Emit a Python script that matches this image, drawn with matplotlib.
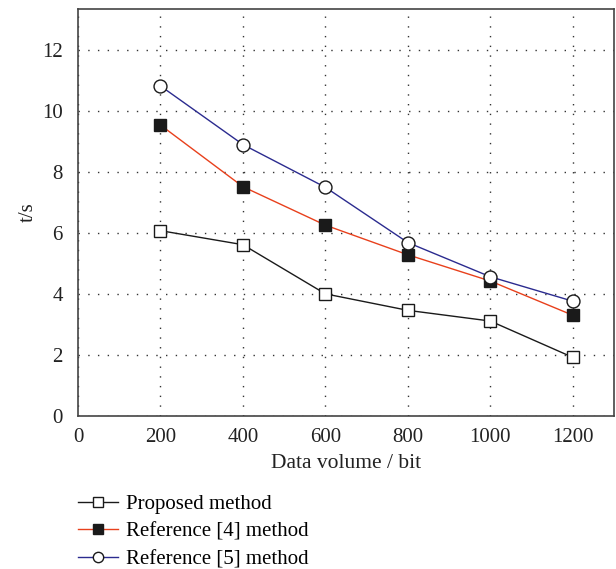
import matplotlib
matplotlib.use("Agg")
import matplotlib.pyplot as plt

x_values = [200, 400, 600, 800, 1000, 1200]
proposed = [6.07, 5.61, 4.00, 3.46, 3.11, 1.92]
ref4 = [9.53, 7.51, 6.25, 5.28, 4.42, 3.30]
ref5 = [10.81, 8.89, 7.49, 5.68, 4.56, 3.76]
labels = ["Proposed method", "Reference [4] method", "Reference [5] method"]
x_ticks = [0, 200, 400, 600, 800, 1000, 1200]
y_ticks = [0, 2, 4, 6, 8, 10, 12]

plt.rcParams['font.family'] = ['Liberation Serif', 'DejaVu Serif']

fig = plt.figure(figsize=(6.16, 5.69), dpi=100)
ax = fig.add_axes([0.1266, 0.2689, 0.8702, 0.7153])

fs = 15
ms = 8.5
l1, = ax.plot(x_values, proposed, color='#1a1a1a', lw=1.0, marker='s', ms=ms,
              mfc='white', mec='#1a1a1a', mew=1.0, label=labels[0], zorder=3)
l2, = ax.plot(x_values, ref4, color='#e8401c', lw=1.0, marker='s', ms=ms,
              mfc='#1a1a1a', mec='#1a1a1a', mew=1.0, label=labels[1], zorder=3)
l3, = ax.plot(x_values, ref5, color='#2b2b8f', lw=1.0, marker='o', ms=ms + 0.8,
              mfc='white', mec='#1a1a1a', mew=1.0, label=labels[2], zorder=4)

ax.set_xlim(0, 1300)
ax.set_ylim(0, 13.33)
ax.set_xticks(x_ticks)
ax.set_yticks(y_ticks)
ax.tick_params(length=0, labelsize=fs, colors='#222222')
ax.tick_params(axis='y', pad=11)
ax.tick_params(axis='x', pad=9)
ax.grid(True, linestyle=(0, (1, 6)), color='#333333', lw=1.0)
for s in ax.spines.values():
    s.set_color('#444444')
    s.set_linewidth(1.2)

ax.set_xlabel("Data volume / bit", fontsize=15.5, color='#222222', labelpad=5)
ax.set_ylabel("t/s", fontsize=fs, color='#222222', labelpad=3)

fig.legend(handles=[l1, l2, l3], labels=labels, loc='upper left',
           bbox_to_anchor=(0.113, 0.146), frameon=False, fontsize=fs,
           handlelength=1.9, handletextpad=0.4, labelspacing=0.4, borderaxespad=0,
           markerscale=0.8)

fig.savefig("out.png", dpi=100)
